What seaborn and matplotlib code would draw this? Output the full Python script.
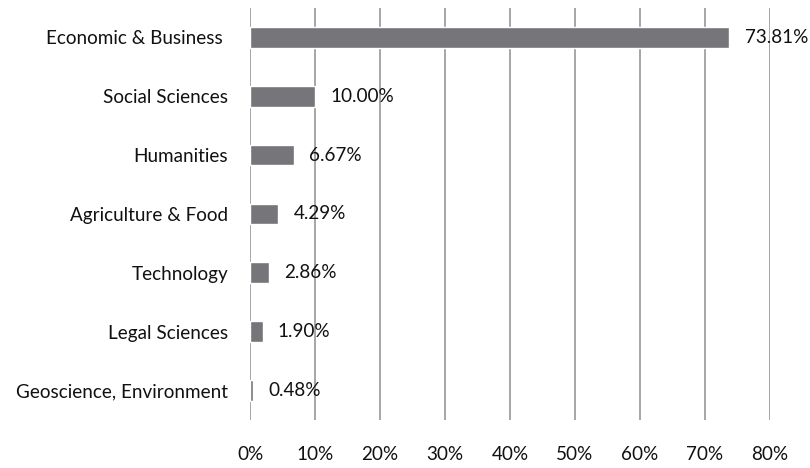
import matplotlib
matplotlib.use("Agg")
import matplotlib.pyplot as plt
import seaborn as sns
import pandas as pd

categories = ["Economic & Business ", "Social Sciences", "Humanities",
              "Agriculture & Food", "Technology", "Legal Sciences",
              "Geoscience, Environment"]
shares = [73.81, 10.00, 6.67, 4.29, 2.86, 1.90, 0.48]
x_ticks = [0, 10, 20, 30, 40, 50, 60, 70, 80]
x_tick_labels = [f"{t}%" for t in x_ticks]

df = pd.DataFrame({"field": categories, "share": shares})

sns.set_theme(style="white")
plt.rcParams["font.family"] = ["Lato", "DejaVu Sans"]

fig = plt.figure(figsize=(8.1, 4.68), dpi=100)
ax = fig.add_axes([0.309, 0.103, 0.641, 0.880])

sns.barplot(data=df, x="share", y="field", orient="h", color="#76767a",
            saturation=1, width=0.35, ax=ax)

ax.set_xlim(0, 80)
ax.set_ylim(6.5, -0.5)
ax.set_xticks(x_ticks)
ax.set_xticklabels(x_tick_labels)
ax.set_axisbelow(True)
ax.grid(axis="x", color="#a6a6a6", linewidth=1.4)
ax.grid(axis="y", visible=False)
for s in ax.spines.values():
    s.set_visible(False)
ax.set_xlabel("")
ax.set_ylabel("")
ax.tick_params(axis="both", length=0, labelsize=13.6, colors="#111111")
ax.tick_params(axis="y", pad=16)
ax.tick_params(axis="x", pad=19)

for i, v in enumerate(shares):
    ax.annotate(f"{v:.2f}%", xy=(v, i), xytext=(11, 0), textcoords="offset points",
                va="center", ha="left", fontsize=13.6, color="#111111")

fig.savefig("out.png", dpi=100)
